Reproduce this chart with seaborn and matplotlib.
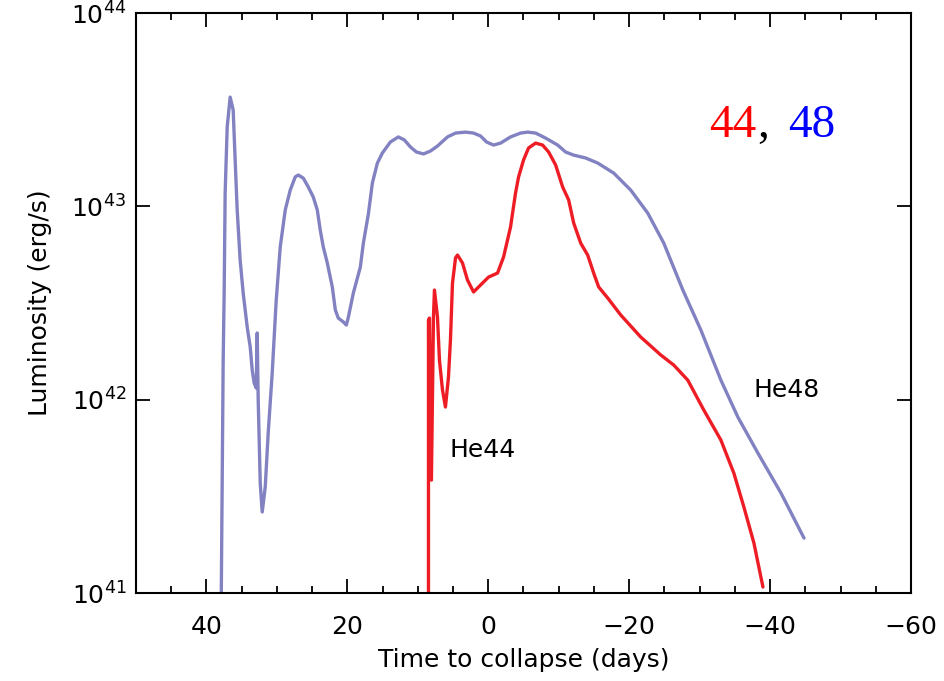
import numpy as np
import pandas as pd
import matplotlib
matplotlib.use("Agg")
import matplotlib.pyplot as plt
import seaborn as sns
from matplotlib.ticker import FixedLocator, NullLocator, MultipleLocator

# ---- data (time to collapse in days, log10 luminosity in erg/s) ----
he48_t = [37.92, 37.63, 37.49, 37.35, 37.06, 36.64, 36.21, 35.93, 35.64, 35.22,
          34.79, 34.22, 33.79, 33.51, 33.23, 32.94, 32.80, 32.66, 32.37, 32.09,
          31.66, 31.24, 30.67, 30.10, 29.53, 28.82, 28.11, 27.40, 26.97, 26.26,
          25.55, 24.84, 24.27, 23.85, 23.42, 22.85, 22.14, 21.71, 21.29, 20.57,
          20.15, 19.86, 19.15, 18.16, 17.73, 17.02, 16.45, 15.74, 15.03, 13.89,
          12.76, 11.90, 11.05, 10.20, 9.20, 8.21, 7.21, 5.79, 4.65, 3.23,
          2.09, 1.10, 0.25, -0.75, -1.74, -3.16, -4.59, -5.58, -6.72, -8.14,
          -9.85, -10.98, -12.12, -13.83, -15.53, -17.81, -20.22, -22.64, -24.91, -27.62,
          -30.18, -33.02, -35.43, -38.27, -41.55, -44.82]
he48_logL = [40.90, 42.205, 42.552, 43.069, 43.41, 43.565, 43.498, 43.24, 42.981, 42.722,
             42.552, 42.376, 42.272, 42.153, 42.086, 42.06, 42.345, 42.00, 41.569, 41.419,
             41.548, 41.827, 42.138, 42.515, 42.79, 42.981, 43.084, 43.152, 43.162, 43.146,
             43.10, 43.048, 42.981, 42.877, 42.79, 42.707, 42.583, 42.464, 42.422, 42.402,
             42.386, 42.427, 42.552, 42.686, 42.81, 42.96, 43.121, 43.224, 43.276, 43.333,
             43.359, 43.343, 43.307, 43.281, 43.271, 43.286, 43.312, 43.359, 43.379, 43.384,
             43.379, 43.364, 43.333, 43.317, 43.327, 43.359, 43.379, 43.384, 43.379, 43.353,
             43.317, 43.281, 43.265, 43.25, 43.224, 43.172, 43.084, 42.965, 42.81, 42.567,
             42.36, 42.101, 41.91, 41.724, 41.517, 41.284]

he44_t = [8.49, 8.49, 8.35, 8.07, 7.78, 7.64, 7.21, 6.93, 6.50, 6.08,
          5.65, 5.37, 5.08, 4.65, 4.37, 3.66, 2.95, 2.09, 1.10, -0.04,
          -1.32, -2.17, -3.16, -3.87, -4.30, -5.01, -5.72, -6.72, -7.71, -8.57,
          -9.56, -10.56, -11.41, -12.12, -13.12, -14.11, -14.96, -15.67, -16.95, -18.80,
          -21.64, -24.49, -26.33, -28.32, -30.60, -33.02, -34.86, -36.29, -37.71, -38.99]
he44_logL = [40.90, 42.41, 42.422, 41.584, 42.427, 42.567, 42.427, 42.205, 42.05, 41.962,
             42.117, 42.308, 42.603, 42.733, 42.748, 42.707, 42.619, 42.557, 42.593, 42.634,
             42.655, 42.738, 42.893, 43.069, 43.152, 43.24, 43.302, 43.327, 43.317, 43.281,
             43.214, 43.10, 43.033, 42.914, 42.81, 42.748, 42.655, 42.583, 42.526, 42.438,
             42.324, 42.231, 42.179, 42.101, 41.946, 41.791, 41.62, 41.444, 41.258, 41.031]

x_ticks = [40, 20, 0, -20, -40, -60]
y_ticks = [1e41, 1e42, 1e43, 1e44]
y_ticklabels = ["$10^{41}$", "$10^{42}$", "$10^{43}$", "$10^{44}$"]

df48 = pd.DataFrame({"t": he48_t, "L": 10 ** np.array(he48_logL), "model": "He48"})
df44 = pd.DataFrame({"t": he44_t, "L": 10 ** np.array(he44_logL), "model": "He44"})

sns.set_style("ticks")
plt.rcParams["font.family"] = ["DejaVu Sans"]
plt.rcParams["mathtext.default"] = "regular"
for k in ["text.color", "axes.labelcolor", "xtick.color", "ytick.color", "axes.edgecolor"]:
    plt.rcParams[k] = "black"

fig = plt.figure(figsize=(9.44, 6.81), dpi=100)
ax = fig.add_axes([0.1441, 0.1292, 0.8209, 0.8517])

sns.lineplot(data=df48, x="t", y="L", sort=False, estimator=None, ax=ax,
             color="#8282C2", linewidth=2.4, legend=False)
sns.lineplot(data=df44, x="t", y="L", sort=False, estimator=None, ax=ax,
             color="#EE1D25", linewidth=2.4, legend=False)
for ln in ax.lines:
    ln.set_solid_joinstyle("round")
    ln.set_solid_capstyle("round")

ax.set_yscale("log")
ax.set_xlim(50, -60)
ax.set_ylim(1e41, 1e44)

ax.xaxis.set_major_locator(FixedLocator(x_ticks))
ax.xaxis.set_minor_locator(MultipleLocator(5))
ax.yaxis.set_major_locator(FixedLocator(y_ticks))
ax.yaxis.set_minor_locator(NullLocator())
ax.set_xticklabels(["%d" % v if v >= 0 else "\u2212%d" % (-v) for v in x_ticks])
ax.set_yticklabels(y_ticklabels)

ax.tick_params(which="both", direction="in", top=True, right=True, width=1.3, colors="black")
ax.tick_params(which="major", length=10, labelsize=18)
ax.tick_params(axis="x", which="major", pad=16)
ax.tick_params(axis="y", which="major", pad=7)
ax.tick_params(which="minor", length=5)
for s in ax.spines.values():
    s.set_linewidth(1.5)
    s.set_color("black")

ax.set_xlabel("Time to collapse (days)", fontsize=18, labelpad=6)
ax.set_ylabel("Luminosity (erg/s)", fontsize=18, labelpad=14)

ax.text(0.8, 10 ** 41.739, "He44", fontsize=18, ha="center", va="center")
ax.text(-42.4, 10 ** 42.05, "He48", fontsize=18, ha="center", va="center")

ax.text(-31.3, 10 ** 43.359, "44", color="red", fontsize=34, family="Liberation Serif",
        ha="left", va="baseline")
ax.text(-38.2, 10 ** 43.359, ",", color="black", fontsize=34, family="Liberation Serif",
        ha="left", va="baseline")
ax.text(-42.5, 10 ** 43.359, "48", color="blue", fontsize=34, family="Liberation Serif",
        ha="left", va="baseline")

fig.savefig("out.png", dpi=100)
